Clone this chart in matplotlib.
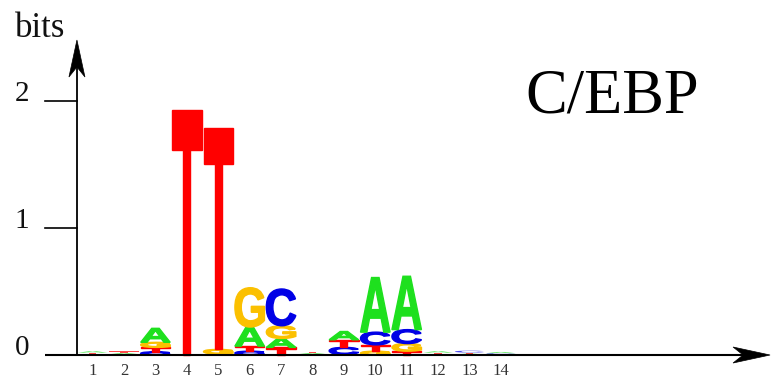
import numpy as np
import matplotlib
matplotlib.use("Agg")
import matplotlib.pyplot as plt
from matplotlib.textpath import TextPath
from matplotlib.font_manager import FontProperties
from matplotlib.patches import PathPatch, Polygon
from matplotlib.transforms import Affine2D, ScaledTranslation

# information content (bits) per base at each position
positions = list(range(1, 15))
A = [0.012, 0.010, 0.110, 0.000, 0.005, 0.150, 0.070, 0.010, 0.065, 0.430, 0.420, 0.012, 0.008, 0.010]
C = [0.003, 0.003, 0.025, 0.000, 0.004, 0.030, 0.290, 0.003, 0.055, 0.100, 0.110, 0.005, 0.015, 0.008]
G = [0.005, 0.003, 0.040, 0.000, 0.035, 0.310, 0.100, 0.003, 0.005, 0.030, 0.060, 0.003, 0.003, 0.003]
T = [0.010, 0.012, 0.035, 1.930, 1.740, 0.040, 0.060, 0.010, 0.060, 0.050, 0.030, 0.010, 0.008, 0.003]
y_ticks = [0, 1, 2]
title = "C/EBP"

colors = {"A": "#1ee01e", "C": "#0000e6", "G": "#fbc000", "T": "#ff0000"}
heights = {"A": A, "C": C, "G": G, "T": T}

fig = plt.figure(figsize=(7.71, 3.78), dpi=100)
ax = fig.add_axes([0, 0, 1, 1])
ax.set_xlim(-1.95, 22.6)
ax.set_ylim(-0.181, 2.795)
ax.axis("off")

fp = FontProperties(family="Liberation Sans", weight="bold")


def draw_letter(ch, x, y, w, h):
    tp = TextPath((0, 0), ch, size=1, prop=fp)
    ext = tp.get_extents()
    tr = (Affine2D()
          .translate(-ext.x0, -ext.y0)
          .scale(w / ext.width, h / ext.height)
          .translate(x - w / 2, y))
    # thin outline only on letters big enough to see
    lw = 1.0 if h > 0.02 else 0.0
    ax.add_patch(PathPatch(tr.transform_path(tp), fc=colors[ch], ec=colors[ch],
                           lw=lw, alpha=1.0 if h > 0.02 else 0.7, zorder=3))


for i, pos in enumerate(positions):
    stack = sorted(heights, key=lambda b: heights[b][i])
    y0 = 0.0
    for b in stack:
        h = heights[b][i]
        if h > 0:
            draw_letter(b, pos, y0, 0.94, h)
            y0 += h

# axes
serif = "Liberation Serif"
ax.plot([-0.52, 22.3], [0, 0], color="black", lw=1.5, zorder=4, solid_capstyle="butt")
ax.plot([0.5, 0.5], [0, 2.3], color="black", lw=1.3, zorder=4, solid_capstyle="butt")
for t in y_ticks[1:]:
    ax.plot([-0.52, 0.5], [t, t], color="black", lw=1.2, zorder=4)
for t in y_ticks:
    ax.text(-1.25, t, str(t), ha="center", va="baseline", fontsize=21,
            family=serif, color="#111111")


def arrow_head(xt, yt, angle):
    pts = np.array([[0, 0], [-0.37, 0.08], [-0.27, 0], [-0.37, -0.08]])
    rot = np.array([[np.cos(angle), -np.sin(angle)], [np.sin(angle), np.cos(angle)]])
    pts = pts @ rot.T
    trans = fig.dpi_scale_trans + ScaledTranslation(xt, yt, ax.transData)
    ax.add_patch(Polygon(pts, closed=True, fc="black", ec="black", lw=0.5,
                         transform=trans, zorder=5))


arrow_head(22.57, 0, 0)
arrow_head(0.5, 2.48, np.pi / 2)

for pos in positions:
    ax.text(pos, -0.157, str(pos), ha="center", va="baseline", fontsize=12,
            family=serif, color="#333333")

ax.text(-0.68, 2.50, "bits", ha="center", va="baseline", fontsize=25,
        family=serif, color="#111111")
ax.text(14.77, 1.913, title, ha="left", va="baseline", fontsize=45,
        family=serif, color="black")

fig.savefig("out.png", dpi=100)
